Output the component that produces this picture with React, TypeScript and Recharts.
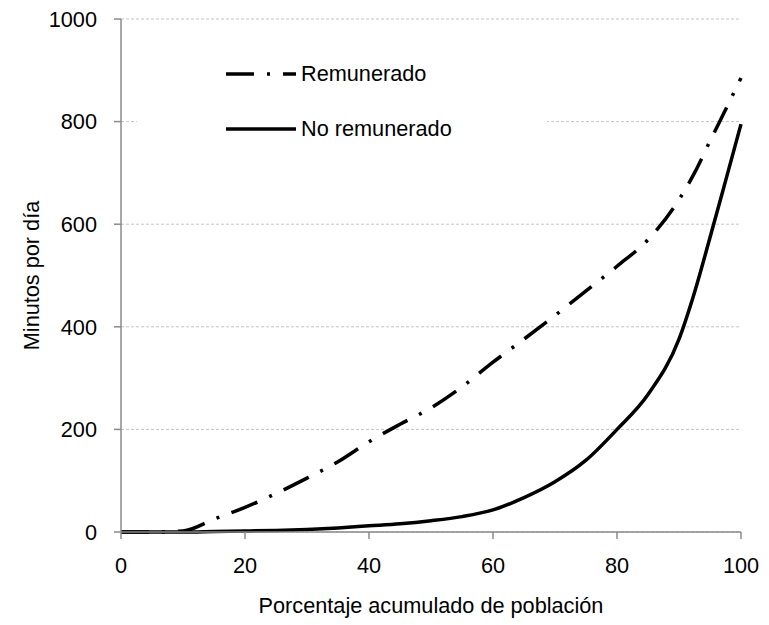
import { LineChart, Line, XAxis, YAxis, CartesianGrid, Legend, Label } from "recharts";

const PCT = [0, 5, 10, 15, 20, 25, 30, 35, 40, 45, 50, 55, 60, 65, 70, 75, 80, 85, 90, 92.5, 95, 97.5, 100];
const REMUNERADO = [0, 0, 2, 25, 48, 75, 105, 137, 176, 210, 242, 283, 331, 376, 422, 470, 518, 570, 648, 700, 762, 823, 885];
const NO_REMUNERADO = [0, 0, 0, 1, 2, 3, 5, 8, 12, 16, 22, 30, 43, 67, 98, 140, 200, 268, 376, 467, 574, 684, 795];

const X_TICKS = [0, 20, 40, 60, 80, 100];
const Y_TICKS = [0, 200, 400, 600, 800, 1000];

const SERIES = [
  { key: "rem", name: "Remunerado", dash: "28 13 3 13" },
  { key: "noRem", name: "No remunerado", dash: undefined },
];

const FONT = '"Liberation Sans", Arial, sans-serif';
const FS = 21.7;
const AXIS_GRAY = "#8a8a8a";

const data = PCT.map((p, i) => ({ pct: p, rem: REMUNERADO[i], noRem: NO_REMUNERADO[i] }));

function LegendBox() {
  return (
    <div style={{ width: 410, height: 115, background: "#fff", fontFamily: FONT, fontSize: FS, color: "#000" }}>
      {SERIES.map((s, i) => (
        <div
          key={s.key}
          style={{ position: "absolute", left: 89, top: 15 + i * 55, height: 28, display: "flex", alignItems: "center" }}
        >
          <svg width={70} height={8} style={{ display: "block" }}>
            <line x1={0} y1={4} x2={70} y2={4} stroke="#000" strokeWidth={3.5} strokeDasharray={s.dash} />
          </svg>
          <span style={{ marginLeft: 5, whiteSpace: "nowrap" }}>{s.name}</span>
        </div>
      ))}
    </div>
  );
}

function YTitle(props: any) {
  const vb = props.viewBox || { x: 0, y: 19, width: 121, height: 513 };
  const cx = vb.x + 33;
  const cy = vb.y + vb.height / 2;
  return (
    <text
      x={cx}
      y={cy}
      transform={`rotate(-90 ${cx} ${cy})`}
      textAnchor="middle"
      dominantBaseline="middle"
      fontFamily={FONT}
      fontSize={FS}
      fill="#000"
    >
      Minutos por día
    </text>
  );
}

export default function App() {
  return (
    <div style={{ position: "absolute", left: 0, top: 0, background: "#fff", fontFamily: FONT }}>
      <LineChart width={769} height={625} data={data} margin={{ top: 19, right: 28, bottom: 0, left: 0 }}>
        <CartesianGrid vertical={false} stroke="#c4c4c4" strokeDasharray="3 2" />
        <XAxis
          dataKey="pct"
          type="number"
          domain={[0, 100]}
          ticks={X_TICKS}
          height={93}
          tickSize={7}
          tickMargin={19}
          stroke={AXIS_GRAY}
          strokeWidth={1.5}
          tick={{ fill: "#000", fontSize: FS, fontFamily: FONT }}
        >
          <Label
            value="Porcentaje acumulado de población"
            position="insideBottom"
            offset={12}
            style={{ fill: "#000", fontSize: FS, fontFamily: FONT }}
          />
        </XAxis>
        <YAxis
          type="number"
          domain={[0, 1000]}
          ticks={Y_TICKS}
          width={121}
          tickSize={7}
          tickMargin={17}
          stroke={AXIS_GRAY}
          strokeWidth={1.5}
          tick={{ fill: "#000", fontSize: FS, fontFamily: FONT }}
        >
          <Label content={YTitle} />
        </YAxis>
        <Legend
          layout="vertical"
          align="center"
          verticalAlign="middle"
          content={() => <LegendBox />}
          wrapperStyle={{ left: 137, top: 45, width: 410, height: 115 }}
        />
        {SERIES.map((s) => (
          <Line
            key={s.key}
            dataKey={s.key}
            name={s.name}
            type="monotone"
            stroke="#000"
            strokeWidth={3.5}
            strokeDasharray={s.dash}
            dot={false}
            activeDot={false}
            isAnimationActive={false}
          />
        ))}
      </LineChart>
    </div>
  );
}
